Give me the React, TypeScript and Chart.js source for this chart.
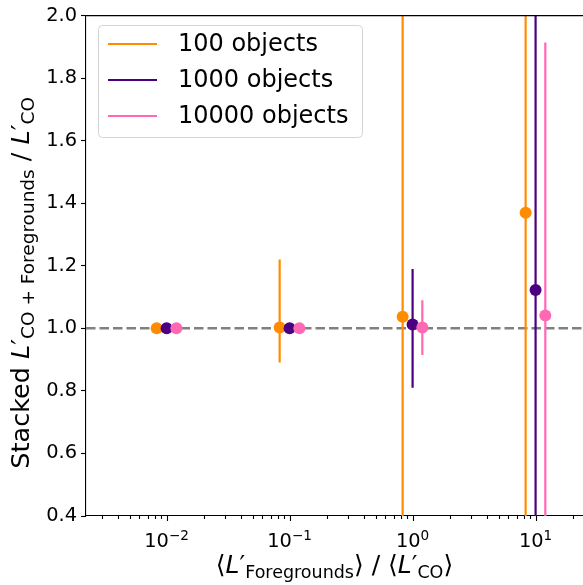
import React, { useEffect, useRef } from "react";
import { Chart, registerables } from "chart.js";

Chart.register(...registerables);

// ---- data ----
const seriesLabels = ["100 objects", "1000 objects", "10000 objects"];
const seriesColors = ["#ff8c00", "#4b0082", "#ff69b4"];

// foreground-to-CO luminosity ratio (x) for each sample size
const x100 = [0.0083, 0.083, 0.83, 8.3];
const x1000 = [0.01, 0.1, 1, 10];
const x10000 = [0.012, 0.12, 1.2, 12];

// stacked ratio and its lower / upper bounds
const y100 = [1.0, 1.003, 1.037, 1.37];
const lo100 = [0.994, 0.891, -0.3, -0.6];
const hi100 = [1.006, 1.22, 2.4, 3.3];

const y1000 = [1.0, 1.0, 1.012, 1.123];
const lo1000 = [0.996, 0.99, 0.81, -0.4];
const hi1000 = [1.004, 1.01, 1.19, 2.6];

const y10000 = [1.0, 1.0, 1.003, 1.041];
const lo10000 = [0.998, 0.995, 0.915, 0.17];
const hi10000 = [1.002, 1.005, 1.09, 1.914];

const referenceLevel = 1.0;

const yTickValues = [0.4, 0.6, 0.8, 1.0, 1.2, 1.4, 1.6, 1.8, 2.0];
const xMajorTicks = [0.01, 0.1, 1, 10];
const xTickExponents = ["\u22122", "\u22121", "0", "1"];

const X_MIN = 0.00221;
const X_MAX = 24.3;

const FAMILY = "'DejaVu Sans', sans-serif";

type Run = { t: string; size: number; italic?: boolean; dy?: number };

function fontOf(r: Run) {
  return `${r.italic ? "italic " : ""}${r.size}px ${FAMILY}`;
}

function drawRuns(ctx: CanvasRenderingContext2D, runs: Run[], x: number, y: number, align: "center" | "left") {
  const widths = runs.map((r) => {
    ctx.font = fontOf(r);
    return ctx.measureText(r.t).width;
  });
  const total = widths.reduce((a, b) => a + b, 0);
  let cx = align === "center" ? x - total / 2 : x;
  ctx.textAlign = "left";
  ctx.textBaseline = "alphabetic";
  runs.forEach((r, i) => {
    ctx.font = fontOf(r);
    ctx.fillText(r.t, cx, y + (r.dy || 0));
    cx += widths[i];
  });
}

const allX = [x100, x1000, x10000];
const allLo = [lo100, lo1000, lo10000];
const allHi = [hi100, hi1000, hi10000];

const LABEL_SIZE = 25;
const SUB_SIZE = 17.5;
const YLABEL_SIZE = 25.5;
const YSUB_SIZE = 18.5;

const decorPlugin = {
  id: "decor",
  beforeDatasetsDraw(chart: any) {
    const { ctx, chartArea } = chart;
    const ys = chart.scales.y;
    const py = ys.getPixelForValue(referenceLevel);
    ctx.save();
    ctx.strokeStyle = "#808080";
    ctx.lineWidth = 2.5;
    ctx.setLineDash([9.5, 4]);
    ctx.beginPath();
    ctx.moveTo(chartArea.left, py);
    ctx.lineTo(chartArea.right, py);
    ctx.stroke();
    ctx.restore();
  },
  beforeDatasetDraw(chart: any, args: any) {
    const i = args.index;
    const { ctx, chartArea } = chart;
    const xs = chart.scales.x;
    const ys = chart.scales.y;
    ctx.save();
    ctx.beginPath();
    ctx.rect(chartArea.left, chartArea.top, chartArea.right - chartArea.left, chartArea.bottom - chartArea.top);
    ctx.clip();
    ctx.strokeStyle = seriesColors[i];
    ctx.lineWidth = 2.2;
    allX[i].forEach((xv, k) => {
      const px = xs.getPixelForValue(xv);
      ctx.beginPath();
      ctx.moveTo(px, ys.getPixelForValue(allLo[i][k]));
      ctx.lineTo(px, ys.getPixelForValue(allHi[i][k]));
      ctx.stroke();
    });
    ctx.restore();
  },
  afterDraw(chart: any) {
    const { ctx, chartArea } = chart;
    const xs = chart.scales.x;
    ctx.save();
    // top spine
    ctx.strokeStyle = "#000";
    ctx.lineWidth = 1.1;
    ctx.beginPath();
    ctx.moveTo(chartArea.left, chartArea.top);
    ctx.lineTo(chartArea.right, chartArea.top);
    ctx.stroke();

    // x ticks: decades plus minor ticks
    const b = chartArea.bottom;
    ctx.beginPath();
    for (let e = -3; e <= 1; e++) {
      for (let m = 1; m <= 9; m++) {
        const v = m * Math.pow(10, e);
        if (v < X_MIN || v > X_MAX) continue;
        const px = Math.round(xs.getPixelForValue(v)) + 0.5;
        ctx.moveTo(px, b);
        ctx.lineTo(px, b + (m === 1 ? 5 : 3));
      }
    }
    ctx.stroke();

    // x tick labels 10^n
    ctx.fillStyle = "#000";
    xMajorTicks.forEach((v, k) => {
      const px = xs.getPixelForValue(v);
      drawRuns(ctx, [
        { t: "10", size: 19.4 },
        { t: xTickExponents[k], size: 13.6, dy: -7 },
      ], px, 547, "center");
    });

    // x axis title
    drawRuns(ctx, [
      { t: "\u27E8", size: LABEL_SIZE },
      { t: "L", size: LABEL_SIZE, italic: true },
      { t: "\u2032", size: LABEL_SIZE },
      { t: "Foregrounds", size: SUB_SIZE, dy: 5 },
      { t: "\u27E9 / \u27E8", size: LABEL_SIZE },
      { t: "L", size: LABEL_SIZE, italic: true },
      { t: "\u2032", size: LABEL_SIZE },
      { t: "CO", size: SUB_SIZE, dy: 5 },
      { t: "\u27E9", size: LABEL_SIZE },
    ], (chartArea.left + chartArea.right) / 2, 573, "center");

    // y axis title (rotated)
    ctx.save();
    ctx.translate(29, (chartArea.top + chartArea.bottom) / 2 + 17);
    ctx.rotate(-Math.PI / 2);
    drawRuns(ctx, [
      { t: "Stacked ", size: YLABEL_SIZE },
      { t: "L", size: YLABEL_SIZE, italic: true },
      { t: "\u2032", size: YLABEL_SIZE },
      { t: "CO + Foregrounds", size: YSUB_SIZE, dy: 5 },
      { t: " / ", size: YLABEL_SIZE },
      { t: "L", size: YLABEL_SIZE, italic: true },
      { t: "\u2032", size: YLABEL_SIZE },
      { t: "CO", size: YSUB_SIZE, dy: 5 },
    ], 0, 0, "center");
    ctx.restore();

    // legend
    const lx = 98, ly = 25, lw = 264, lh = 112, r = 4;
    ctx.fillStyle = "rgba(255,255,255,0.8)";
    ctx.strokeStyle = "#d4d4d4";
    ctx.lineWidth = 1;
    ctx.beginPath();
    ctx.roundRect(lx + 0.5, ly + 0.5, lw, lh, r);
    ctx.fill();
    ctx.stroke();
    seriesLabels.forEach((label, k) => {
      const cy = 44 + k * 36;
      ctx.strokeStyle = seriesColors[k];
      ctx.lineWidth = 2;
      ctx.beginPath();
      ctx.moveTo(108, cy);
      ctx.lineTo(157, cy);
      ctx.stroke();
      ctx.fillStyle = "#000";
      ctx.font = `24px ${FAMILY}`;
      ctx.textAlign = "left";
      ctx.textBaseline = "middle";
      ctx.fillText(label, 178, cy + 1);
    });
    ctx.restore();
  },
};

function toPoints(xv: number[], yv: number[]) {
  return xv.map((x, i) => ({ x, y: yv[i] }));
}

export default function App() {
  const ref = useRef<HTMLCanvasElement | null>(null);

  useEffect(() => {
    if (!ref.current) return;
    const series = [
      [x100, y100],
      [x1000, y1000],
      [x10000, y10000],
    ];
    const chart = new Chart(ref.current, {
      type: "scatter",
      data: {
        datasets: series.map(([xv, yv], i) => ({
          label: seriesLabels[i],
          data: toPoints(xv, yv),
          backgroundColor: seriesColors[i],
          borderWidth: 0,
          pointRadius: 6,
          pointHoverRadius: 6,
          order: 3 - i,
          clip: false as any,
        })),
      },
      options: {
        responsive: false,
        animation: false,
        devicePixelRatio: 1,
        layout: { autoPadding: false, padding: { left: 0, top: 13, right: 0, bottom: 0 } },
        plugins: { legend: { display: false }, tooltip: { enabled: false } },
        events: [],
        scales: {
          x: {
            type: "logarithmic",
            bounds: "data",
            min: X_MIN,
            max: X_MAX,
            ticks: { display: false },
            grid: { display: false },
            border: { display: true, color: "#000", width: 1.1 },
            afterBuildTicks: (s: any) => {
              s.ticks = xMajorTicks.map((v) => ({ value: v }));
            },
            afterDataLimits: (s: any) => {
              s.min = X_MIN;
              s.max = X_MAX;
            },
            afterFit: (s: any) => {
              s.height = 69;
              s.paddingLeft = 0;
              s.paddingRight = 0;
            },
          },
          y: {
            type: "linear",
            min: 0.4,
            max: 2.0,
            afterBuildTicks: (s: any) => {
              s.ticks = yTickValues.map((v) => ({ value: v }));
            },
            ticks: {
              color: "#000",
              padding: 4,
              font: { family: FAMILY, size: 19.4 },
              callback: (v: any) => Number(v).toFixed(1),
            },
            grid: {
              display: true,
              drawOnChartArea: false,
              drawTicks: true,
              tickLength: 5,
              tickWidth: 1.1,
              tickColor: "#000",
            },
            border: { display: true, color: "#000", width: 1.1 },
            afterFit: (s: any) => {
              s.width = 86;
            },
          },
        },
      },
      plugins: [decorPlugin],
    });
    return () => chart.destroy();
  }, []);

  return (
    <div style={{ position: "absolute", left: 0, top: 0, width: 583, height: 585, background: "#fff" }}>
      <canvas ref={ref} width={583} height={585} style={{ display: "block" }} />
    </div>
  );
}
